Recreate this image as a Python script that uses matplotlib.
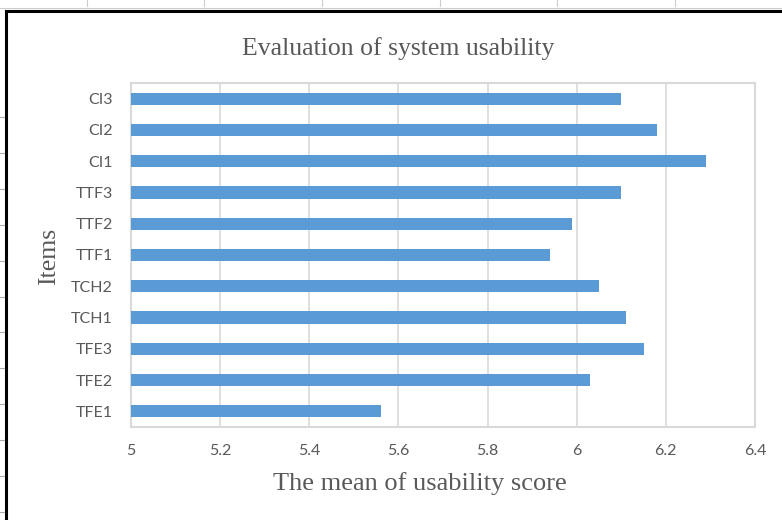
import matplotlib.pyplot as plt
from matplotlib.lines import Line2D
import numpy as np

# Items, bottom to top as drawn
items = ['TFE1', 'TFE2', 'TFE3', 'TCH1', 'TCH2', 'TTF1', 'TTF2', 'TTF3', 'CI1', 'CI2', 'CI3']
mean_scores = [5.56, 6.03, 6.15, 6.11, 6.05, 5.94, 5.99, 6.10, 6.29, 6.18, 6.10]
x_ticks = [5, 5.2, 5.4, 5.6, 5.8, 6, 6.2, 6.4]
x_tick_labels = ['5', '5.2', '5.4', '5.6', '5.8', '6', '6.2', '6.4']

W, H = 782, 520
BAR_COLOR = '#5b9bd5'
GRID = '#d9d9d9'
TEXT = '#595959'

fig = plt.figure(figsize=(W / 100, H / 100), dpi=100)
fig.patch.set_facecolor('white')

# Plot area in pixel coords: left 131, right 755, top 83, bottom 427
ax = fig.add_axes([131 / W, 1 - 427 / H, (755 - 131) / W, (427 - 83) / H])

y = np.arange(len(items))
ax.barh(y, [v - 5 for v in mean_scores], left=5, height=0.39, color=BAR_COLOR, zorder=3)

ax.set_xlim(5, 6.4)
ax.set_ylim(-0.5, len(items) - 0.5)
ax.set_xticks(x_ticks)
ax.set_xticklabels(x_tick_labels)
ax.set_yticks(y)
ax.set_yticklabels(items)
ax.grid(axis='x', color=GRID, linewidth=1.2, zorder=0)
for s in ax.spines.values():
    s.set_color(GRID)
    s.set_linewidth(1.5)
ax.tick_params(length=0, colors=TEXT, labelsize=11.5)
ax.tick_params(axis='x', pad=12)
ax.tick_params(axis='y', pad=13)
for lab in ax.get_xticklabels() + ax.get_yticklabels():
    lab.set_family('Lato')
    lab.set_color(TEXT)

fig.text(398 / W, 1 - 55 / H, 'Evaluation of system usability', ha='center', va='baseline',
         family='Liberation Serif', fontsize=18.5, color=TEXT)
fig.text(420 / W, 1 - 490 / H, 'The mean of usability score', ha='center', va='baseline',
         family='Liberation Serif', fontsize=19, color=TEXT)
fig.text(49 / W, 1 - 256 / H, 'Items', ha='center', va='center', rotation=90,
         family='Liberation Serif', fontsize=18.5, color=TEXT)

# Black frame of the screenshot (top and left)
fig.add_artist(Line2D([6 / W, 1], [1 - 11 / H, 1 - 11 / H], color='black', linewidth=2.2))
fig.add_artist(Line2D([6 / W, 6 / W], [0, 1 - 11 / H], color='black', linewidth=2.2))
fig.add_artist(Line2D([0, 1], [1 - 8 / H, 1 - 8 / H], color='#cccccc', linewidth=0.8))

# small grey ticks outside the frame
for yp in np.arange(117, H, 35.9):
    fig.add_artist(Line2D([0, 4 / W], [1 - yp / H] * 2, color='#aaaaaa', linewidth=0.8))
for xp in np.arange(87, W, 117.5):
    fig.add_artist(Line2D([xp / W] * 2, [1, 1 - 6 / H], color='#cccccc', linewidth=0.8))

fig.savefig('out.png', dpi=100, facecolor='white')
